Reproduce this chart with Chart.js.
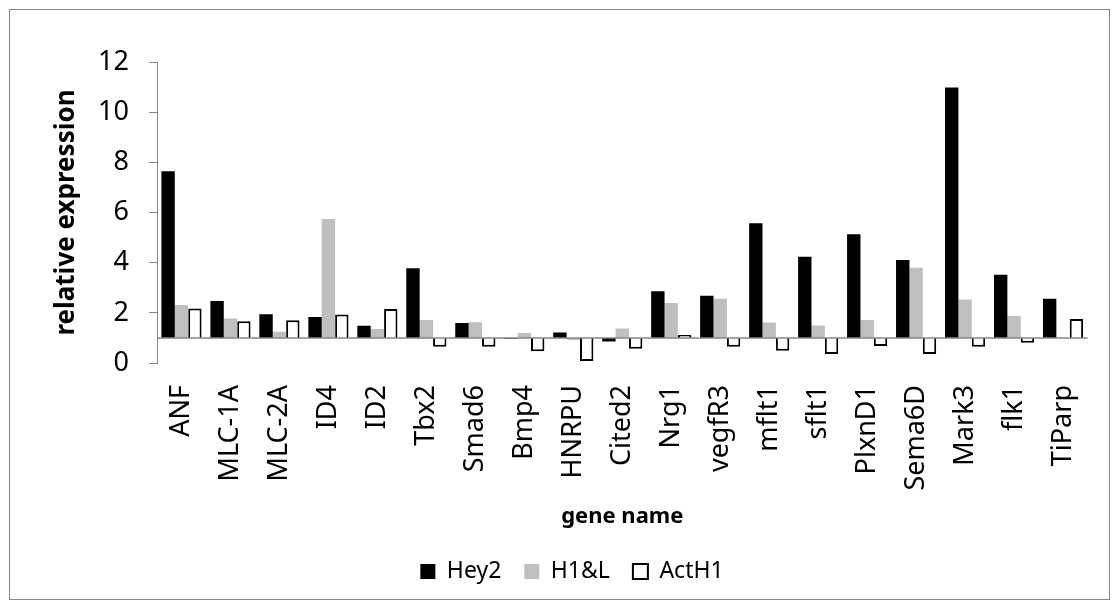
<!DOCTYPE html>
<html>
<head>
<meta charset="utf-8">
<script src="https://cdn.jsdelivr.net/npm/chart.js@4.4.1/dist/chart.umd.min.js"></script>
<style>
  html, body { margin: 0; padding: 0; background: #fff; }
  #wrap { position: relative; width: 1118px; height: 608px; }
</style>
</head>
<body>
<div id="wrap"><canvas id="chart" width="1118" height="608"></canvas></div>
<script>
const genes = ['ANF', 'MLC-1A', 'MLC-2A', 'ID4', 'ID2', 'Tbx2', 'Smad6', 'Bmp4', 'HNRPU', 'Cited2',
  'Nrg1', 'vegfR3', 'mflt1', 'sflt1', 'PlxnD1', 'Sema6D', 'Mark3', 'flk1', 'TiParp'];
const hey2 = [7.64, 2.47, 1.94, 1.83, 1.49, 3.78, 1.59, 0.97, 1.22, 0.86,
  2.86, 2.68, 5.57, 4.24, 5.13, 4.11, 10.98, 3.52, 2.56];
const h1l = [2.31, 1.77, 1.25, 5.74, 1.36, 1.71, 1.62, 1.2, 0.92, 1.38,
  2.39, 2.56, 1.61, 1.50, 1.71, 3.80, 2.53, 1.87, 1.0];
const actH1 = [2.17, 1.66, 1.70, 1.93, 2.15, 0.65, 0.65, 0.47, 0.08, 0.57,
  1.12, 0.65, 0.49, 0.36, 0.68, 0.36, 0.65, 0.81, 1.75];
const baseline = 1;

const axisGrey = '#868686';
const font = 'Noto Sans';

// outer frame + the category axis line crossing at y = 1
const framePlugin = {
  id: 'frame',
  beforeDraw(chart) {
    const ctx = chart.ctx;
    ctx.save();
    ctx.strokeStyle = axisGrey;
    ctx.lineWidth = 1;
    ctx.strokeRect(9.5, 9.5, 1100, 590);
    ctx.restore();
  },
  afterDatasetsDraw(chart) {
    const {ctx, chartArea, scales} = chart;
    const y = scales.y.getPixelForValue(baseline);
    ctx.save();
    ctx.strokeStyle = axisGrey;
    ctx.lineWidth = 1.5;
    ctx.beginPath();
    ctx.moveTo(chartArea.left, y);
    ctx.lineTo(chartArea.right, y);
    ctx.stroke();
    ctx.restore();
  }
};

const ctx = document.getElementById('chart').getContext('2d');
new Chart(ctx, {
  type: 'bar',
  data: {
    labels: genes,
    datasets: [
      { label: 'Hey2', data: hey2, base: baseline, backgroundColor: '#000000', borderWidth: 0 },
      { label: 'H1&L', data: h1l, base: baseline, backgroundColor: '#bfbfbf', borderWidth: 0 },
      { label: 'ActH1', data: actH1, base: baseline, backgroundColor: '#ffffff', borderColor: '#000000', borderWidth: 2 }
    ]
  },
  options: {
    responsive: false,
    animation: false,
    categoryPercentage: 0.82,
    barPercentage: 1.0,
    layout: { padding: { left: 47, right: 21, top: 62, bottom: 15 } },
    scales: {
      x: {
        grid: { display: false, drawTicks: false },
        border: { display: false },
        ticks: {
          minRotation: 90,
          maxRotation: 90,
          autoSkip: false,
          padding: 22,
          color: '#000',
          font: { family: font, size: 27 }
        },
        title: {
          display: true,
          text: 'gene name',
          color: '#000',
          font: { family: font, size: 22, weight: 'bold' },
          padding: { top: 4, bottom: 7 }
        },
        afterFit(scale) { scale.height = 174; }
      },
      y: {
        min: 0,
        max: 12,
        ticks: {
          stepSize: 2,
          padding: 20,
          color: '#000',
          font: { family: font, size: 27 }
        },
        grid: { display: true, drawOnChartArea: false, drawTicks: true, tickLength: 8, color: axisGrey },
        border: { display: true, color: axisGrey, width: 1 },
        title: {
          display: true,
          text: 'relative expression',
          color: '#000',
          font: { family: font, size: 26, weight: 'bold' },
          padding: { top: 4, bottom: 4 }
        },
        afterFit(scale) { scale.width = 110; }
      }
    },
    plugins: {
      legend: {
        position: 'bottom',
        labels: {
          boxWidth: 15,
          boxHeight: 15,
          padding: 23,
          color: '#000',
          font: { family: font, size: 23 }
        }
      },
      tooltip: { enabled: false }
    }
  },
  plugins: [framePlugin]
});
</script>
</body>
</html>
